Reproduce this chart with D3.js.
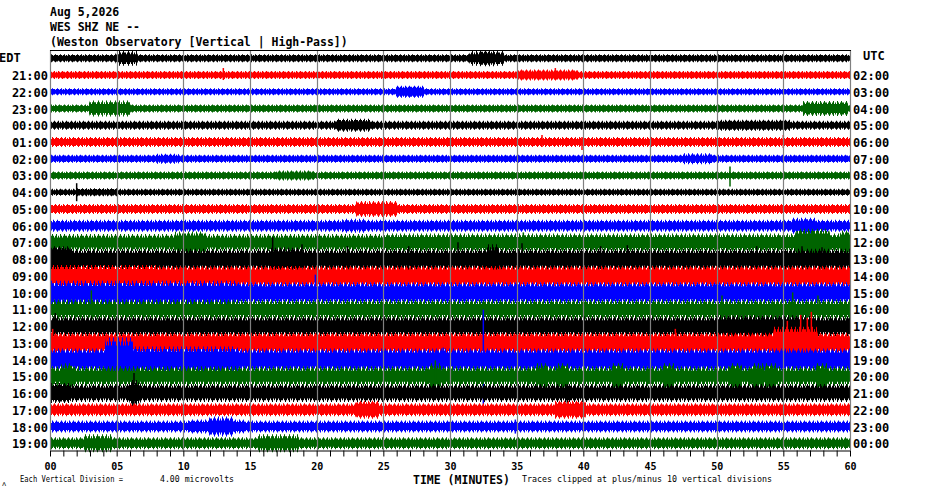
<!DOCTYPE html>
<html>
<head>
<meta charset="utf-8">
<script src="https://cdnjs.cloudflare.com/ajax/libs/d3/7.8.5/d3.min.js"></script>
<style>
body{margin:0;background:#fff;}
svg{display:block;}
text{font-family:"DejaVu Sans Mono",monospace;fill:#000;}
</style>
</head>
<body>
<div id="chart"></div>
<script>
// hour rows, local (left) and UTC (right)
var hoursEDT = ["EDT","21:00","22:00","23:00","00:00","01:00","02:00","03:00","04:00","05:00","06:00","07:00",
  "08:00","09:00","10:00","11:00","12:00","13:00","14:00","15:00","16:00","17:00","18:00","19:00"];
var hoursUTC = ["UTC","02:00","03:00","04:00","05:00","06:00","07:00","08:00","09:00","10:00","11:00","12:00",
  "13:00","14:00","15:00","16:00","17:00","18:00","19:00","20:00","21:00","22:00","23:00","00:00"];
var minuteTicks = ["00","05","10","15","20","25","30","35","40","45","50","55","60"];

// background noise per row, microvolts: solid core and spike reach
var traceCore = [2,2,1.6,2,2,2.4,2,2,1.6,2.4,2.8, 4,5.2,5.2,5.2,4.4,4.8,5.2,5.6,4.4,4.4,3.2,2.8,2.8];
var tracePeak = [3.2,3.2,2.8,3.2,3.6,4,3.2,3.2,2.8,4,4.8, 6.8,8.4,8,8.4,8,8,8,8.8,8,7.2,5.2,4.8,4.8];

// [row, start min, end min, core uV, peak uV]
var traceEvents = [
  [0,5,6.5,3.2,6],[0,31.5,34,3.2,6],[0,32.3,33.3,4,6.4],
  [1,35,39.5,2.8,4.4],
  [2,26,28,3.2,4.8],
  [3,3,6,3.6,6.4],[3,56.5,59.8,3.6,6],
  [4,21.5,24,3.2,5.2],[4,50,55.5,2.8,4.4],
  [6,8,9.6,2.4,4],[6,47.5,49.7,2.4,4.4],
  [7,17,19.7,2.4,4],
  [8,2,5,2,3.2],
  [9,23,26,4,6.4],
  [10,22,23.6,3.2,5.6],[10,55.7,57.4,4,6.4],
  [11,9.4,11.6,5.6,8.8],[11,25,60,4.4,7.2],[11,56,58.4,7.2,11],[11,59.3,60,6.4,9.6],
  [12,0,1.5,8,10.4],[12,16.5,19,6.4,9.6],[12,32.8,33.6,7.2,12],
  [13,0,8,5.6,8.8],
  [14,0,14,5.6,9.6],
  [16,50,57,5.6,8.8],
  [17,54.3,57.5,8.8,12.8],
  [18,4.2,6.2,11.2,17.6],[18,6.2,14,6.4,10.4],
  [19,0.9,1.7,6.4,10.4],[19,28.5,29.3,6.4,10.4],[19,36.5,37.3,6.4,10.4],[19,38,38.8,6.4,10.4],
  [19,42.2,43,6.4,10.4],[19,46,46.8,6.4,10.4],[19,51,51.8,6.4,10.4],[19,52.7,53.5,6.4,10.4],
  [19,53.7,54.5,6.4,10.4],[19,57.5,58.3,6.4,10.4],
  [20,0,1.5,5.6,8],[20,6,6.7,6.4,10.4],
  [21,23,24.6,4.8,7.2],[21,37.9,40.1,4.8,7.2],
  [22,10.5,14.5,3.6,5.6],[22,12,13.7,4.8,8],
  [23,2.6,4.6,4,7.2],[23,15.6,18.6,4,7.2]
];

// [row, minute, up uV, down uV]
var traceSpikes = [
  [1,13,5.6,4],[1,37.9,5.6,4],
  [5,36.9,5.6,4],[5,39.9,4,6.4],[5,55,5.6,4.8],
  [7,51,7.2,8.8],
  [8,2,7.2,7.2],
  [11,35.5,8,4],
  [12,16.7,17.6,9.6],[12,18.9,12,9.6],[12,22.3,10.4,9.6],[12,26.9,10.4,9.6],[12,30.6,13.6,10.4],
  [12,35.4,12.8,9.6],[12,41.3,10.4,8],[12,43.3,11.2,9.6],[12,53,10.4,8],[12,56.4,10.4,8],[12,57.9,9.6,8],
  [14,19.9,14.4,8],
  [15,3.1,15.2,8],[15,50.4,11.2,8],[15,55.7,13.6,8],[15,57.6,11.2,8],
  [16,0.4,10.4,9.6],
  [17,0.2,11.2,8],[17,46.9,11.2,8],[17,55.3,17.6,8],[17,56.3,22.4,8],[17,56.8,20,8],[17,57.1,24.8,8],
  [18,32.5,40,36],[18,29.5,9.6,8],
  [19,28.9,12.8,9.6],
  [20,6.3,16,9.6],[20,38.8,7.2,9.6],
  [22,34.9,5.6,5.6]
];

var Helicorder = {
    init:function(){
        this.svg = d3.select('#chart').append('svg')
            .attr('width', 930)
            .attr('height', 494);
        this.x = d3.scaleLinear().domain([0, 60]).range([50, 850]);
        this.row = d3.scalePoint().domain(hoursEDT).range([58.3, 443.3]);
        // 4 microvolts per vertical division, 5 px per division
        this.amp = d3.scaleLinear().domain([0, 4]).range([0, 5]);
        this.colors = ['#000000', '#ff0000', '#0000ff', '#006400'];
        this.samples = d3.range(0, 601).map(function(i){ return i / 10; });

        this.makePatterns();
        this.drawTraces();
        this.drawGrid();
        this.drawLabels();
        this.drawAxis();
        return this;
    },
    makePatterns:function(){
        var defs = this.svg.append('defs');
        var sparse = [0, 4, 9, 13];
        var dense = [0, 1, 3, 5, 6, 8, 10, 12, 13, 15];
        var that = this;
        hoursEDT.forEach(function(h, r){
            var c = that.colors[r % 4];
            [['sp', sparse], ['dn', dense]].forEach(function(p){
                var pat = defs.append('pattern')
                    .attr('id', p[0] + r)
                    .attr('patternUnits', 'userSpaceOnUse')
                    .attr('width', 17).attr('height', 4)
                    .attr('patternTransform', 'translate(' + ((r * 7) % 17) + ',0)');
                pat.selectAll('rect').data(p[1]).enter().append('rect')
                    .attr('x', function(d){ return d; })
                    .attr('y', 0).attr('width', 1).attr('height', 4)
                    .attr('fill', c)
                    .attr('shape-rendering', 'crispEdges');
            });
        });
    },
    envelope:function(r){
        var ev = traceEvents.filter(function(e){ return e[0] === r; });
        return this.samples.map(function(t){
            var core = traceCore[r], peak = tracePeak[r];
            ev.forEach(function(e){
                if (t >= e[1] && t <= e[2]) {
                    core = Math.max(core, e[3]);
                    peak = Math.max(peak, e[4]);
                }
            });
            return {t: t, core: core, peak: peak};
        });
    },
    drawTraces:function(){
        var that = this;
        var g = this.svg.append('g').attr('class', 'traces');
        hoursEDT.forEach(function(h, r){
            var cy = that.row(h);
            var env = that.envelope(r);
            var band = function(key){
                return d3.area()
                    .x(function(d){ return that.x(d.t); })
                    .y0(function(d){ return cy + that.amp(key(d)); })
                    .y1(function(d){ return cy - that.amp(key(d)); });
            };
            var rg = g.append('g');
            rg.append('path').datum(env)
                .attr('d', band(function(d){ return d.peak; }))
                .attr('fill', 'url(#sp' + r + ')');
            rg.append('path').datum(env)
                .attr('d', band(function(d){ return (d.core + d.peak) / 2; }))
                .attr('fill', 'url(#dn' + r + ')');
            rg.append('path').datum(env)
                .attr('d', band(function(d){ return d.core; }))
                .attr('fill', that.colors[r % 4]);

            rg.selectAll('line')
                .data(traceSpikes.filter(function(s){ return s[0] === r; }))
                .enter().append('line')
                .attr('x1', function(d){ return that.x(d[1]); })
                .attr('x2', function(d){ return that.x(d[1]); })
                .attr('y1', function(d){ return cy - that.amp(Math.min(d[2], 40)); })
                .attr('y2', function(d){ return cy + that.amp(Math.min(d[3], 40)); })
                .attr('stroke', that.colors[r % 4])
                .attr('stroke-width', 1.5);
        });
    },
    drawGrid:function(){
        var that = this;
        this.svg.append('g').selectAll('line')
            .data(d3.range(0, 61, 5))
            .enter().append('line')
            .attr('x1', function(d){ return Math.round(that.x(d)) + 0.5; })
            .attr('x2', function(d){ return Math.round(that.x(d)) + 0.5; })
            .attr('y1', 50).attr('y2', 450)
            .attr('stroke', '#808080')
            .attr('stroke-width', 1.2);
        this.svg.append('line')
            .attr('x1', this.x(0)).attr('x2', this.x(60) + 1)
            .attr('y1', 50.5).attr('y2', 50.5)
            .attr('stroke', '#000');
    },
    drawLabels:function(){
        var that = this;
        var s = this.svg;
        var title = ['Aug 5,2026', 'WES SHZ NE --', '(Weston Observatory [Vertical | High-Pass])'];
        s.selectAll('text.title').data(title).enter().append('text')
            .attr('class', 'title')
            .attr('x', 50)
            .attr('y', function(d, i){ return 16 + i * 15; })
            .attr('font-size', '11.5px').attr('font-weight', 'bold')
            .text(function(d){ return d; });

        s.selectAll('text.edt').data(hoursEDT).enter().append('text')
            .attr('class', 'edt')
            .attr('x', function(d, i){ return i === 0 ? -1 : 48; })
            .attr('text-anchor', function(d, i){ return i === 0 ? 'start' : 'end'; })
            .attr('y', function(d, i){ return that.row(d) + (i === 0 ? 3.5 : 5); })
            .attr('font-size', '12px').attr('font-weight', 'bold')
            .text(function(d){ return d; });

        s.selectAll('text.utc').data(hoursUTC).enter().append('text')
            .attr('class', 'utc')
            .attr('x', function(d, i){ return i === 0 ? 863 : 853; })
            .attr('y', function(d, i){ return that.row(hoursEDT[i]) + (i === 0 ? 2 : 5); })
            .attr('font-size', '12px').attr('font-weight', 'bold')
            .text(function(d){ return d; });

        s.append('text').attr('x', 413).attr('y', 483.5)
            .attr('font-size', '11.5px').attr('font-weight', 'bold')
            .text('TIME (MINUTES)');
        s.append('text').attr('x', 20).attr('y', 482)
            .attr('font-size', '8px')
            .attr('textLength', 103).attr('lengthAdjust', 'spacingAndGlyphs')
            .text('Each Vertical Division =');
        s.append('text').attr('x', 160).attr('y', 482)
            .attr('font-size', '8px')
            .attr('textLength', 74).attr('lengthAdjust', 'spacingAndGlyphs')
            .text('4.00 microvolts');
        s.append('text').attr('x', 522).attr('y', 482)
            .attr('font-size', '8px')
            .attr('textLength', 250).attr('lengthAdjust', 'spacingAndGlyphs')
            .text('Traces clipped at plus/minus 10 vertical divisions');
        s.append('text').attr('x', 2).attr('y', 486)
            .attr('font-size', '7px')
            .text('\u028c');
    },
    drawAxis:function(){
        var axis = d3.axisBottom(this.x)
            .tickValues(d3.range(0, 61))
            .tickSize(6)
            .tickSizeOuter(0)
            .tickPadding(6)
            .tickFormat(function(d){ return d % 5 === 0 ? minuteTicks[d / 5] : ''; });
        var g = this.svg.append('g')
            .attr('transform', 'translate(0,450.5)')
            .call(axis);
        g.select('.domain').attr('stroke', '#000');
        g.selectAll('.tick line').attr('stroke', '#000');
        g.selectAll('.tick text')
            .attr('font-family', '"DejaVu Sans Mono",monospace')
            .attr('font-size', '10px')
            .attr('font-weight', 'bold')
            .attr('fill', '#000');
    }
};

Helicorder.init();
</script>
</body>
</html>
